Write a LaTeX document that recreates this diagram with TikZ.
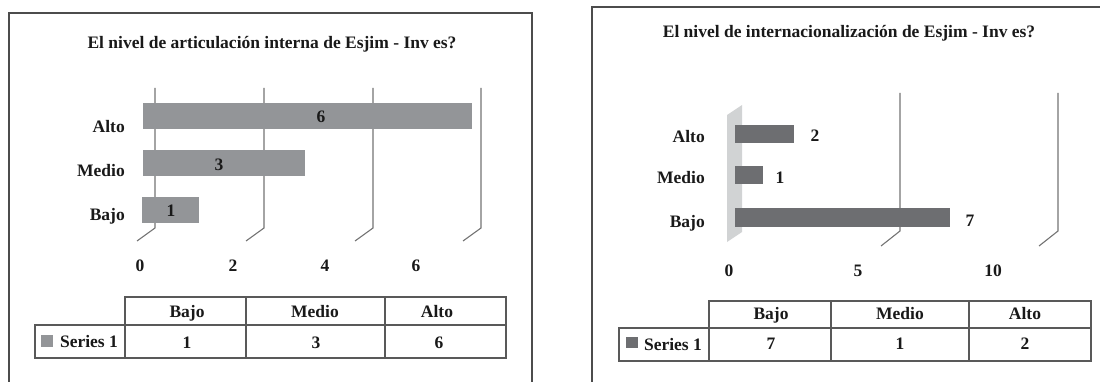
\documentclass[tikz,border=0pt]{standalone}
\usepackage{fontspec}
\setmainfont{Liberation Serif}
\begin{document}
\begin{tikzpicture}[x=1pt,y=-1pt,
  lbl/.style={inner sep=0pt,anchor=base,font=\fontsize{17.5}{20}\selectfont\bfseries,text=black!90},
  lble/.style={lbl,anchor=base east},
  frame/.style={draw=black!70,line width=1.4pt},
  grid/.style={draw=black!55,line width=1.1pt},
  tbl/.style={draw=black!65,line width=1.2pt},
  barA/.style={fill=barlight},
  barB/.style={fill=bardark}]
\definecolor{barlight}{HTML}{939598}
\definecolor{bardark}{HTML}{6D6E71}
\definecolor{wallc}{HTML}{D1D3D4}
\useasboundingbox (0,0) rectangle (1100,382);
\clip (0,0) rectangle (1100,382);
% ---------- left panel ----------
\draw[frame] (9,390) -- (9,13) -- (532,13) -- (532,390);
\node[lbl] (t1) at (272,49) {El nivel de articulación interna de Esjim - Inv es?};
\foreach \gx in {155,264,373,481}{
  \draw[grid] (\gx,88) -- (\gx,228) -- (\gx-18,241);
}
\fill[barA] (143,103) rectangle (472,129);
\fill[barA] (143,150) rectangle (305,176);
\fill[barA] (142,197) rectangle (199,223);
\node[lble] (c1a) at (125,133) {Alto};
\node[lble] (c1m) at (125,177) {Medio};
\node[lble] (c1b) at (125,220) {Bajo};
\node[lbl] (v1a) at (321,123) {6};
\node[lbl] (v1m) at (219,171) {3};
\node[lbl] (v1b) at (171,217) {1};
\node[lbl] (x10) at (140,271) {0};
\node[lbl] (x12) at (233,271) {2};
\node[lbl] (x14) at (325,271) {4};
\node[lbl] (x16) at (416,271) {6};
\draw[tbl] (125,297) rectangle (506,325);
\draw[tbl] (35,325) rectangle (506,358);
\draw[tbl] (125,297) -- (125,358);
\draw[tbl] (246,297) -- (246,358);
\draw[tbl] (385,297) -- (385,358);
\node[lbl] (h1b) at (187,317) {Bajo};
\node[lbl] (h1m) at (315,317) {Medio};
\node[lbl] (h1a) at (437,317) {Alto};
\fill[barlight] (41,335) rectangle (53,347);
\node[lbl] (s1) at (89,347) {Series 1};
\node[lbl] (r1b) at (187,348) {1};
\node[lbl] (r1m) at (316,348) {3};
\node[lbl] (r1a) at (439,348) {6};
% ---------- right panel ----------
\draw[frame] (592,390) -- (592,7) -- (1110,7);
\node[lbl] (t2) at (849,38) {El nivel de internacionalización de Esjim - Inv es?};
\fill[wallc] (727,115) -- (742,105) -- (742,232) -- (727,242) -- cycle;
\foreach \gx in {900,1058}{
  \draw[grid] (\gx,93) -- (\gx,231) -- (\gx-19,246);
}
\fill[barB] (735,125) rectangle (794,143);
\fill[barB] (735,166) rectangle (763,184);
\fill[barB] (735,208) rectangle (950,227);
\node[lble] (c2a) at (705,143) {Alto};
\node[lble] (c2m) at (705,184) {Medio};
\node[lble] (c2b) at (705,228) {Bajo};
\node[lbl] (v2a) at (815,142) {2};
\node[lbl] (v2m) at (780,184) {1};
\node[lbl] (v2b) at (970,226) {7};
\node[lbl] (x20) at (729,276) {0};
\node[lbl] (x25) at (858,276) {5};
\node[lbl] (x210) at (993,276) {10};
\draw[tbl] (709,301) rectangle (1091,328);
\draw[tbl] (619,328) rectangle (1091,361);
\draw[tbl] (709,301) -- (709,361);
\draw[tbl] (831,301) -- (831,361);
\draw[tbl] (969,301) -- (969,361);
\node[lbl] (h2b) at (771,319) {Bajo};
\node[lbl] (h2m) at (900,319) {Medio};
\node[lbl] (h2a) at (1025,319) {Alto};
\fill[bardark] (626,337) rectangle (638,348);
\node[lbl] (s2) at (673,350) {Series 1};
\node[lbl] (r2b) at (771,349) {7};
\node[lbl] (r2m) at (900,349) {1};
\node[lbl] (r2a) at (1025,349) {2};
\end{tikzpicture}
\end{document}
